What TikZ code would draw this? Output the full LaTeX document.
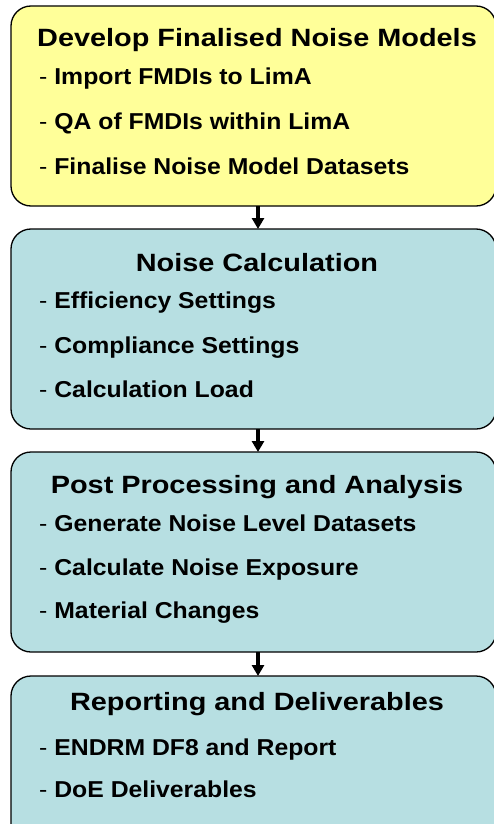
\documentclass[tikz,border=0pt]{standalone}
\usepackage{fontspec}
\setmainfont{Liberation Sans}
\usetikzlibrary{arrows.meta}
\definecolor{boxyellow}{HTML}{FFFF99}
\definecolor{boxblue}{HTML}{B7DFE2}
\tikzset{
  stagebox/.style={draw=black, line width=1.3pt, rounded corners=20pt},
  titletext/.style={anchor=base, inner sep=0pt, xscale=1.155, font=\fontsize{25}{30}\selectfont\bfseries},
  itemtext/.style={anchor=base west, inner sep=0pt, xscale=1.077, font=\fontsize{23}{27}\selectfont},
  flowarrow/.style={line width=3.5pt, -{Triangle[width=12pt,length=11pt]}},
}
\newcommand{\itm}[1]{-~\textbf{#1}}
\begin{document}
\begin{tikzpicture}[x=1pt,y=-1pt]
\useasboundingbox (0,0) rectangle (493,824);
% boxes
\draw[stagebox, fill=boxyellow] (11,6) rectangle (496,206);
\draw[stagebox, fill=boxblue] (11,229) rectangle (496,429);
\draw[stagebox, fill=boxblue] (11,452) rectangle (496,652);
\draw[stagebox, fill=boxblue] (11,676) rectangle (496,876);
\coordinate (b1s) at (258,206);
\coordinate (b2n) at (258,229);
\coordinate (b2s) at (258,429);
\coordinate (b3n) at (258,452);
\coordinate (b3s) at (258,652);
\coordinate (b4n) at (258,676);
% box 1
\node[titletext] (t1) at (257,46.5) {Develop Finalised Noise Models};
\node[itemtext] (i11) at (39,85) {\itm{Import FMDIs to LimA}};
\node[itemtext] (i12) at (39,130) {\itm{QA of FMDIs within LimA}};
\node[itemtext] (i13) at (39,174) {\itm{Finalise Noise Model Datasets}};
% box 2
\node[titletext] (t2) at (257,271) {Noise Calculation};
\node[itemtext] (i21) at (39,308.5) {\itm{Efficiency Settings}};
\node[itemtext] (i22) at (39,353) {\itm{Compliance Settings}};
\node[itemtext] (i23) at (39,397) {\itm{Calculation Load}};
% box 3
\node[titletext] (t3) at (257,493.5) {Post Processing and Analysis};
\node[itemtext] (i31) at (39,531.5) {\itm{Generate Noise Level Datasets}};
\node[itemtext] (i32) at (39,575) {\itm{Calculate Noise Exposure}};
\node[itemtext] (i33) at (39,618.5) {\itm{Material Changes}};
% box 4
\node[titletext] (t4) at (257,710.5) {Reporting and Deliverables};
\node[itemtext] (i41) at (39,755) {\itm{ENDRM DF8 and Report}};
\node[itemtext] (i42) at (39,797) {\itm{DoE Deliverables}};
% arrows
\draw[flowarrow] (b1s) -- (b2n);
\draw[flowarrow] (b2s) -- (b3n);
\draw[flowarrow] (b3s) -- (b4n);
\end{tikzpicture}
\end{document}
